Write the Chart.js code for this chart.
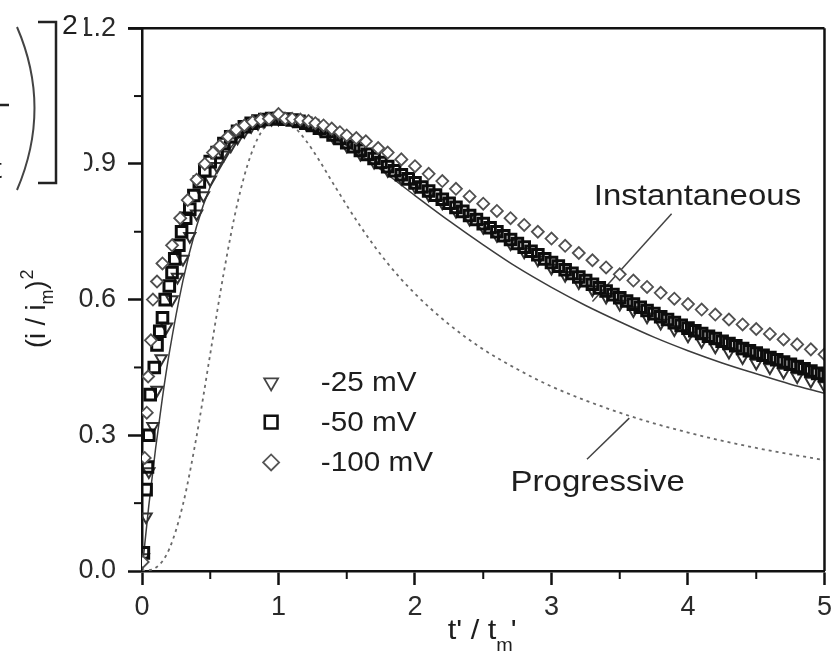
<!DOCTYPE html>
<html>
<head>
<meta charset="utf-8">
<script src="https://cdn.jsdelivr.net/npm/chart.js@4.4.0/dist/chart.umd.min.js"></script>
<style>
  html, body { margin: 0; padding: 0; background: #fff; }
  #wrap { width: 838px; height: 661px; }
</style>
</head>
<body>
<div id="wrap"><canvas id="chart" width="838" height="661"></canvas></div>
<script>
// ===== DATA =====
const xTickVals = [0, 1, 2, 3, 4, 5];
const xMinorVals = [0.5, 1.5, 2.5, 3.5, 4.5];
const yTickVals = [0, 0.3, 0.6, 0.9, 1.2];
const yMinorVals = [0.15, 0.45, 0.75, 1.05];

// theoretical curves
const instT = [0, 0.05, 0.1, 0.15, 0.2, 0.3, 0.4, 0.5, 0.6, 0.7, 0.8, 0.9, 1.0, 1.2, 1.4, 1.6, 1.8, 2.0, 2.25, 2.5, 2.75, 3.0, 3.25, 3.5, 3.75, 4.0, 4.25, 4.5, 4.75, 5.0];
const instY = [0, 0.145, 0.272, 0.384, 0.482, 0.642, 0.762, 0.85, 0.913, 0.955, 0.982, 0.996, 1.0, 0.988, 0.96, 0.92, 0.876, 0.83, 0.774, 0.721, 0.671, 0.627, 0.587, 0.551, 0.517, 0.487, 0.46, 0.436, 0.413, 0.393];

const progT = [0, 0.1, 0.2, 0.3, 0.4, 0.5, 0.6, 0.7, 0.8, 0.9, 1.0, 1.1, 1.2, 1.3, 1.4, 1.6, 1.8, 2.0, 2.25, 2.5, 2.75, 3.0, 3.5, 4.0, 4.5, 5.0];
const progY = [0, 0.007, 0.049, 0.147, 0.298, 0.48, 0.661, 0.814, 0.922, 0.982, 1.0, 0.986, 0.952, 0.907, 0.857, 0.762, 0.68, 0.613, 0.545, 0.49, 0.446, 0.408, 0.35, 0.306, 0.272, 0.245];

// -25 mV (triangles)
const mv25T = [0.01, 0.03, 0.05, 0.08, 0.11, 0.14, 0.18, 0.22, 0.26, 0.3, 0.35, 0.4, 0.45, 0.5, 0.55, 0.6, 0.65, 0.7, 0.75, 0.8, 0.85, 0.9, 0.95, 1.0,
  1.1, 1.2, 1.3, 1.4, 1.5, 1.6, 1.7, 1.8, 1.9, 2.0, 2.1, 2.2, 2.3, 2.4, 2.5, 2.6, 2.7, 2.8, 2.9, 3.0,
  3.1, 3.2, 3.3, 3.4, 3.5, 3.6, 3.7, 3.8, 3.9, 4.0, 4.1, 4.2, 4.3, 4.4, 4.5, 4.6, 4.7, 4.8, 4.9, 5.0];
const mv25Y = [0.03, 0.12, 0.22, 0.32, 0.40, 0.47, 0.54, 0.60, 0.65, 0.69, 0.74, 0.79, 0.83, 0.865, 0.895, 0.92, 0.94, 0.958, 0.972, 0.983, 0.99, 0.996, 0.999, 1.0,
  0.997, 0.99, 0.978, 0.96, 0.94, 0.922, 0.904, 0.886, 0.868, 0.85, 0.832, 0.814, 0.796, 0.778, 0.76, 0.742, 0.724, 0.706, 0.688, 0.67,
  0.654, 0.638, 0.622, 0.606, 0.59, 0.576, 0.562, 0.548, 0.534, 0.52, 0.508, 0.496, 0.484, 0.472, 0.46, 0.45, 0.44, 0.43, 0.42, 0.41];

// -50 mV (squares)
const mv50T = [0.01, 0.03, 0.04, 0.05, 0.06, 0.09, 0.11, 0.13, 0.15, 0.17, 0.2, 0.22, 0.24, 0.27, 0.29, 0.32, 0.35, 0.38, 0.42, 0.46, 0.5, 0.55, 0.6, 0.65, 0.7, 0.75, 0.8, 0.85, 0.9, 0.95, 1.0,
  1.05, 1.1, 1.15, 1.2, 1.25, 1.3, 1.35, 1.4, 1.45, 1.5, 1.55, 1.6, 1.65, 1.7, 1.75, 1.8, 1.85, 1.9, 1.95, 2.0,
  2.05, 2.1, 2.15, 2.2, 2.25, 2.3, 2.35, 2.4, 2.45, 2.5, 2.55, 2.6, 2.65, 2.7, 2.75, 2.8, 2.85, 2.9, 2.95, 3.0,
  3.05, 3.1, 3.15, 3.2, 3.25, 3.3, 3.35, 3.4, 3.45, 3.5, 3.55, 3.6, 3.65, 3.7, 3.75, 3.8, 3.85, 3.9, 3.95, 4.0,
  4.05, 4.1, 4.15, 4.2, 4.25, 4.3, 4.35, 4.4, 4.45, 4.5, 4.55, 4.6, 4.65, 4.7, 4.75, 4.8, 4.85, 4.9, 4.95, 5.0];
const mv50Y = [0.04, 0.18, 0.23, 0.30, 0.39, 0.45, 0.50, 0.53, 0.56, 0.60, 0.63, 0.66, 0.69, 0.72, 0.75, 0.78, 0.80, 0.83, 0.86, 0.885, 0.905, 0.925, 0.945, 0.96, 0.972, 0.982, 0.99, 0.995, 0.998, 1.0, 1.0,
  0.999, 0.997, 0.994, 0.99, 0.985, 0.979, 0.972, 0.964, 0.956, 0.947, 0.938, 0.93, 0.921, 0.912, 0.903, 0.894, 0.885, 0.876, 0.867, 0.858,
  0.849, 0.84, 0.831, 0.822, 0.813, 0.804, 0.795, 0.786, 0.777, 0.768, 0.759, 0.75, 0.741, 0.733, 0.724, 0.716, 0.707, 0.699, 0.69, 0.682,
  0.674, 0.666, 0.658, 0.65, 0.642, 0.634, 0.626, 0.619, 0.611, 0.604, 0.597, 0.59, 0.583, 0.576, 0.569, 0.562, 0.556, 0.549, 0.543, 0.537,
  0.531, 0.525, 0.519, 0.514, 0.508, 0.503, 0.498, 0.492, 0.487, 0.482, 0.477, 0.472, 0.467, 0.462, 0.457, 0.452, 0.447, 0.442, 0.437, 0.432];

// -100 mV (diamonds)
const mv100T = [0.005, 0.02, 0.035, 0.045, 0.065, 0.08, 0.11, 0.15, 0.22, 0.28, 0.335, 0.4, 0.46, 0.52, 0.57, 0.63, 0.69, 0.75, 0.81, 0.87, 0.93, 1.0,
  1.05, 1.1, 1.16, 1.22, 1.27, 1.33, 1.39, 1.45, 1.5, 1.57, 1.64, 1.73, 1.8, 1.9, 2.0,
  2.1, 2.2, 2.3, 2.4, 2.5, 2.6, 2.7, 2.8, 2.9, 3.0, 3.1, 3.2, 3.3, 3.4, 3.5, 3.6, 3.7, 3.8, 3.9, 4.0,
  4.1, 4.2, 4.3, 4.4, 4.5, 4.6, 4.7, 4.8, 4.9, 5.0];
const mv100Y = [0.02, 0.25, 0.35, 0.43, 0.51, 0.60, 0.64, 0.68, 0.72, 0.78, 0.82, 0.865, 0.90, 0.925, 0.94, 0.96, 0.975, 0.985, 0.993, 0.998, 1.0, 1.01,
  1.0, 1.0, 0.998, 0.995, 0.99, 0.985, 0.978, 0.97, 0.963, 0.957, 0.95, 0.935, 0.925, 0.91, 0.895,
  0.878, 0.862, 0.845, 0.828, 0.812, 0.796, 0.78, 0.765, 0.75, 0.735, 0.719, 0.703, 0.687, 0.671, 0.656, 0.642, 0.628, 0.615, 0.602, 0.59,
  0.578, 0.567, 0.556, 0.545, 0.535, 0.524, 0.512, 0.501, 0.49, 0.479];

// annotations, in data units
const legendItems = [
  { label: "-25 mV", y: 0.417 },
  { label: "-50 mV", y: 0.329 },
  { label: "-100 mV", y: 0.240 }
];

// ===== STYLE =====
const FONT = "'Liberation Sans', Arial, sans-serif";
const INK = "#1e1e1e";

const pts = (xs, ys) => xs.map((x, i) => ({ x: x, y: ys[i] }));

const legendStyles = [
  { pointStyle: "triangle", radius: 8, rotation: 180, borderWidth: 1.8, color: "#444" },
  { pointStyle: "rect", radius: 9, rotation: 0, borderWidth: 2.6, color: "#111" },
  { pointStyle: "rectRot", radius: 8, rotation: 0, borderWidth: 1.8, color: "#555" }
];

function drawText(ctx, txt, x, y, size, sx) {
  ctx.save();
  ctx.translate(x, y);
  ctx.scale(sx || 1, 1);
  ctx.font = size + "px " + FONT;
  ctx.fillText(txt, 0, 0);
  ctx.restore();
}

function line(ctx, x1, y1, x2, y2) {
  ctx.beginPath();
  ctx.moveTo(x1, y1);
  ctx.lineTo(x2, y2);
  ctx.stroke();
}

// ===== PLUGIN: pointers behind the markers =====
const pointersPlugin = {
  id: "pointers",
  beforeDatasetsDraw(chart) {
    const { ctx, scales: { x, y } } = chart;
    ctx.save();
    ctx.strokeStyle = "#444";
    ctx.lineWidth = 1.5;
    // Instantaneous
    line(ctx, x.getPixelForValue(3.88), y.getPixelForValue(0.79), x.getPixelForValue(3.30), y.getPixelForValue(0.596));
    // Progressive
    line(ctx, x.getPixelForValue(3.26), y.getPixelForValue(0.247), x.getPixelForValue(3.57), y.getPixelForValue(0.338));
    ctx.restore();
  }
};

// ===== PLUGIN: frame, minor ticks, labels, legend =====
const decorPlugin = {
  id: "decor",
  afterDraw(chart) {
    const { ctx, chartArea: a, scales: { x, y } } = chart;
    ctx.save();

    // top and right frame
    ctx.strokeStyle = "#111";
    ctx.lineWidth = 2.5;
    line(ctx, a.left - 14, a.top, a.right, a.top);
    line(ctx, a.right, a.top, a.right, a.bottom);

    // minor ticks
    ctx.lineWidth = 2;
    xMinorVals.forEach(v => { const px = x.getPixelForValue(v); line(ctx, px, a.bottom, px, a.bottom + 8); });
    yMinorVals.forEach(v => { const py = y.getPixelForValue(v); line(ctx, a.left - 8, py, a.left, py); });

    ctx.fillStyle = INK;
    ctx.textBaseline = "alphabetic";
    ctx.textAlign = "left";

    // curve labels
    drawText(ctx, "Instantaneous", x.getPixelForValue(3.31), y.getPixelForValue(0.81), 30, 1.1);
    drawText(ctx, "Progressive", x.getPixelForValue(2.70), y.getPixelForValue(0.176), 30, 1.1);

    // legend
    legendItems.forEach((it, i) => {
      const s = legendStyles[i];
      const py = y.getPixelForValue(it.y);
      ctx.save();
      ctx.strokeStyle = s.color;
      ctx.fillStyle = "#fff";
      ctx.lineWidth = s.borderWidth;
      Chart.helpers.drawPoint(ctx, { pointStyle: s.pointStyle, radius: s.radius, rotation: s.rotation, borderWidth: s.borderWidth }, x.getPixelForValue(0.946), py);
      ctx.restore();
      ctx.textBaseline = "middle";
      drawText(ctx, it.label, x.getPixelForValue(1.31), py + 1, 27, 1.1);
    });

    // x axis title: t' / t_m'
    ctx.textBaseline = "alphabetic";
    const cx = (a.left + a.right) / 2;
    const bx = a.bottom + 68;
    ctx.font = "28px " + FONT;
    const w1 = ctx.measureText("t' / t").width * 1.1;
    ctx.font = "18px " + FONT;
    const w2 = ctx.measureText("m").width * 1.1;
    const x0 = cx - (w1 + w2 + 6) / 2;
    drawText(ctx, "t' / t", x0, bx, 28, 1.1);
    drawText(ctx, "m", x0 + w1, bx + 12, 18, 1.1);
    drawText(ctx, "'", x0 + w1 + w2 - 2, bx, 28, 1.1);

    // y axis title: (i / i_m)^2, rotated
    ctx.save();
    ctx.translate(45, 348);
    ctx.rotate(-Math.PI / 2);
    ctx.font = "27px " + FONT;
    const v1 = ctx.measureText("(i / i").width;
    drawText(ctx, "(i / i", 0, 0, 27, 1);
    ctx.font = "18px " + FONT;
    const v2 = ctx.measureText("m").width;
    drawText(ctx, "m", v1, 8, 18, 1);
    drawText(ctx, ")", v1 + v2, 0, 27, 1);
    ctx.font = "27px " + FONT;
    const v3 = ctx.measureText(")").width;
    drawText(ctx, "2", v1 + v2 + v3 + 1, -12, 18, 1);
    ctx.restore();

    // cropped label of the neighbouring panel (top left)
    ctx.fillStyle = "#fff";
    ctx.fillRect(0, 0, 84, 186);
    ctx.strokeStyle = "#222";
    ctx.lineWidth = 2.5;
    ctx.beginPath();
    ctx.moveTo(38, 22); ctx.lineTo(56, 22); ctx.lineTo(56, 183); ctx.lineTo(38, 183);
    ctx.stroke();
    ctx.lineWidth = 2;
    ctx.strokeStyle = "#444";
    ctx.beginPath();
    ctx.moveTo(17, 27); ctx.quadraticCurveTo(52, 108, 17, 190);
    ctx.stroke();
    ctx.lineWidth = 2.5;
    ctx.strokeStyle = "#222";
    line(ctx, 0, 105, 9, 105);
    ctx.fillStyle = INK;
    drawText(ctx, "2", 62, 34, 27, 1.05);
    drawText(ctx, "t", -6, 178, 27, 1.05);
    ctx.restore();
  }
};

// ===== CHART =====
const tickFont = { family: FONT, size: 27 };

new Chart(document.getElementById("chart"), {
  type: "scatter",
  data: {
    datasets: [
      {
        label: "-100 mV",
        data: pts(mv100T, mv100Y),
        pointStyle: "rectRot",
        pointRadius: 6,
        pointBorderWidth: 1.8,
        pointBorderColor: "#505050",
        pointBackgroundColor: "#fff",
        order: 1
      },
      {
        label: "-50 mV",
        data: pts(mv50T, mv50Y),
        pointStyle: "rect",
        pointRadius: 7.5,
        pointBorderWidth: 3,
        pointBorderColor: "#0d0d0d",
        pointBackgroundColor: "rgba(255,255,255,0)",
        order: 2
      },
      {
        label: "-25 mV",
        data: pts(mv25T, mv25Y),
        pointStyle: "triangle",
        rotation: 180,
        pointRadius: 6.5,
        pointBorderWidth: 2,
        pointBorderColor: "#333",
        pointBackgroundColor: "rgba(255,255,255,0)",
        order: 3
      },
      {
        label: "Instantaneous",
        data: pts(instT, instY),
        showLine: true,
        pointRadius: 0,
        borderColor: "#3c3c3c",
        borderWidth: 1.5,
        cubicInterpolationMode: "monotone",
        order: 4
      },
      {
        label: "Progressive",
        data: pts(progT, progY),
        showLine: true,
        pointRadius: 0,
        borderColor: "#6a6a6a",
        borderWidth: 1.8,
        borderDash: [3, 4],
        cubicInterpolationMode: "monotone",
        order: 5
      }
    ]
  },
  options: {
    responsive: false,
    animation: false,
    devicePixelRatio: 1,
    layout: { padding: { top: 25, right: 9, left: 0, bottom: 0 } },
    plugins: { legend: { display: false }, tooltip: { enabled: false } },
    scales: {
      x: {
        type: "linear",
        min: 0,
        max: 5,
        afterFit: s => { s.height = 90; },
        afterBuildTicks: s => { s.ticks = xTickVals.map(v => ({ value: v })); },
        border: { display: true, color: "#111", width: 2.5 },
        grid: { drawOnChartArea: false, drawTicks: true, tickLength: 14, tickColor: "#111", tickWidth: 2.5 },
        ticks: { font: tickFont, color: "#2a2a2a", padding: 6, maxRotation: 0, autoSkip: false, callback: v => String(v) }
      },
      y: {
        type: "linear",
        min: 0,
        max: 1.2,
        afterFit: s => { s.width = 142; },
        afterBuildTicks: s => { s.ticks = yTickVals.map(v => ({ value: v })); },
        border: { display: true, color: "#111", width: 2.5 },
        grid: { drawOnChartArea: false, drawTicks: true, tickLength: 14, tickColor: "#111", tickWidth: 2.5 },
        ticks: { font: tickFont, color: "#2a2a2a", padding: 12, autoSkip: false, callback: v => v.toFixed(1) }
      }
    }
  },
  plugins: [pointersPlugin, decorPlugin]
});
</script>
</body>
</html>
